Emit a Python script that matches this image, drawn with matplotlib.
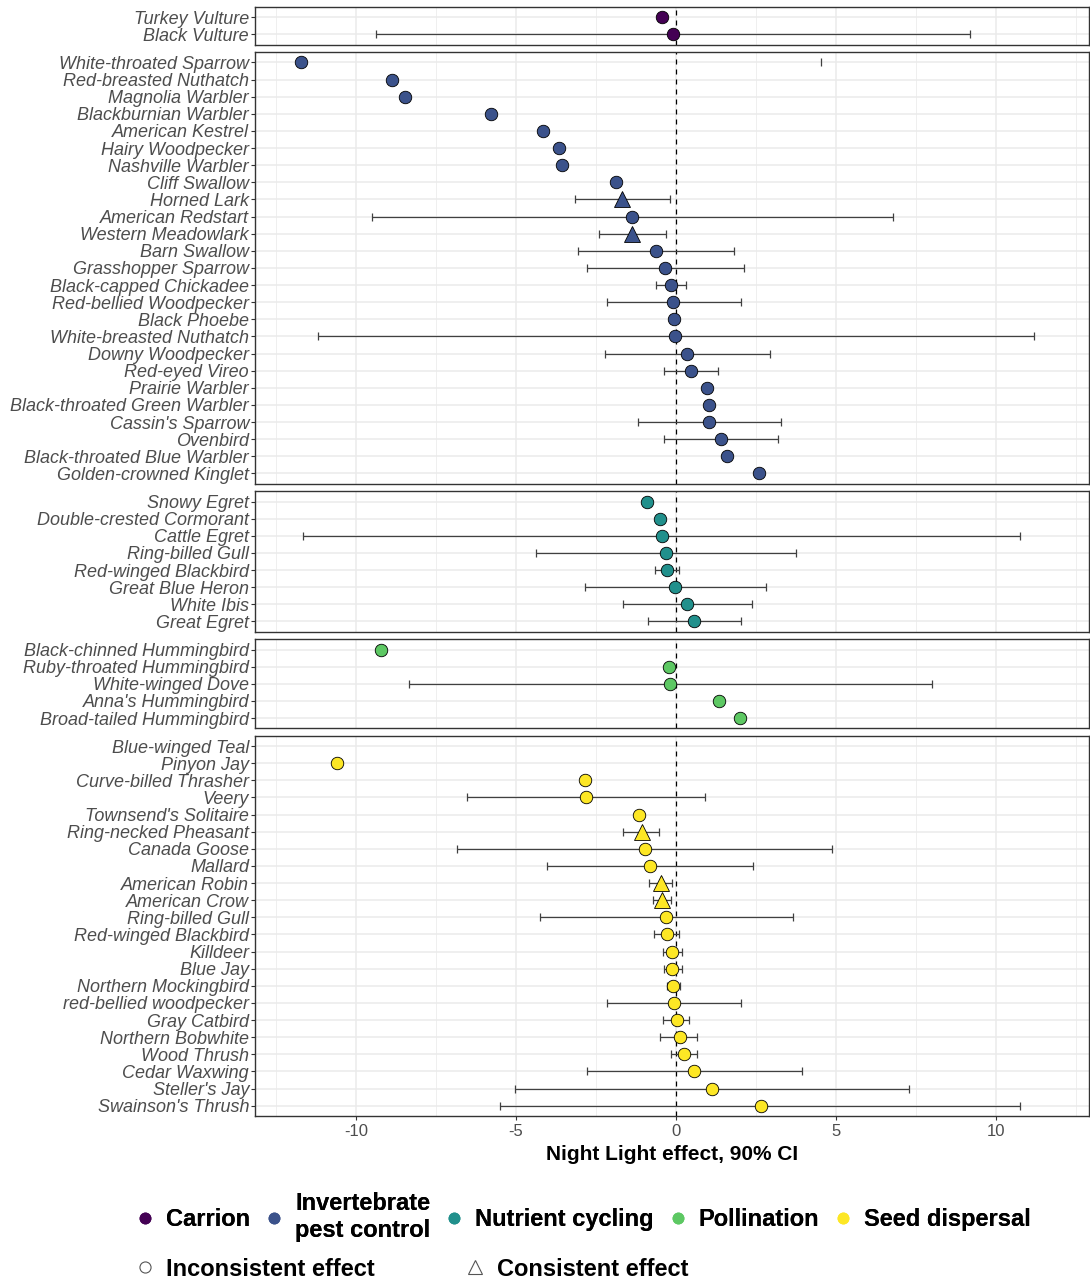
import numpy as np
import matplotlib
matplotlib.use('Agg')
import matplotlib.pyplot as plt
from matplotlib.lines import Line2D

plt.rcParams['font.family'] = ['Liberation Sans', 'DejaVu Sans']
plt.rcParams['axes.unicode_minus'] = False

nan = np.nan

groups = ['Carrion', 'Invertebrate\npest control', 'Nutrient cycling', 'Pollination', 'Seed dispersal']
colors = ['#440154', '#3B528B', '#21908C', '#5DC863', '#FDE725']

# Carrion
carrion_species = ['Turkey Vulture', 'Black Vulture']
carrion_est = [-0.45, -0.08]
carrion_lo = [nan, -9.36]
carrion_hi = [nan, 9.19]
carrion_consistent = [0, 0]

# Invertebrate pest control
pest_species = ['White-throated Sparrow', 'Red-breasted Nuthatch', 'Magnolia Warbler', 'Blackburnian Warbler',
                'American Kestrel', 'Hairy Woodpecker', 'Nashville Warbler', 'Cliff Swallow', 'Horned Lark',
                'American Redstart', 'Western Meadowlark', 'Barn Swallow', 'Grasshopper Sparrow',
                'Black-capped Chickadee', 'Red-bellied Woodpecker', 'Black Phoebe', 'White-breasted Nuthatch',
                'Downy Woodpecker', 'Red-eyed Vireo', 'Prairie Warbler', 'Black-throated Green Warbler',
                "Cassin's Sparrow", 'Ovenbird', 'Black-throated Blue Warbler', 'Golden-crowned Kinglet']
pest_est = [-11.70, -8.86, -8.45, -5.78, -4.16, -3.64, -3.55, -1.86, -1.69, -1.38, -1.38, -0.62, -0.34,
            -0.15, -0.08, -0.06, -0.02, 0.35, 0.46, 0.96, 1.02, 1.04, 1.41, 1.59, 2.58]
pest_lo = [nan, nan, nan, nan, nan, nan, nan, nan, -3.16, -9.49, -2.40, -3.05, -2.77,
           -0.62, -2.16, nan, -11.18, -2.23, -0.37, nan, nan, -1.19, -0.37, nan, nan]
pest_hi = [4.53, nan, nan, nan, nan, nan, nan, nan, -0.19, 6.77, -0.32, 1.82, 2.13,
           0.31, 2.04, nan, 11.17, 2.95, 1.30, nan, nan, 3.28, 3.19, nan, nan]
pest_consistent = [0, 0, 0, 0, 0, 0, 0, 0, 1, 0, 1, 0, 0, 0, 0, 0, 0, 0, 0, 0, 0, 0, 0, 0, 0]

# Nutrient cycling
nutr_species = ['Snowy Egret', 'Double-crested Cormorant', 'Cattle Egret', 'Ring-billed Gull',
                'Red-winged Blackbird', 'Great Blue Heron', 'White Ibis', 'Great Egret']
nutr_est = [-0.91, -0.50, -0.45, -0.32, -0.28, -0.02, 0.35, 0.57]
nutr_lo = [nan, nan, -11.64, -4.38, -0.67, -2.84, -1.67, -0.86]
nutr_hi = [nan, nan, 10.73, 3.75, 0.09, 2.82, 2.37, 2.02]
nutr_consistent = [0] * 8

# Pollination
poll_species = ['Black-chinned Hummingbird', 'Ruby-throated Hummingbird', 'White-winged Dove',
                "Anna's Hummingbird", 'Broad-tailed Hummingbird']
poll_est = [-9.21, -0.21, -0.19, 1.33, 2.00]
poll_lo = [nan, nan, -8.34, nan, nan]
poll_hi = [nan, nan, 8.00, nan, nan]
poll_consistent = [0] * 5

# Seed dispersal
seed_species = ['Blue-winged Teal', 'Pinyon Jay', 'Curve-billed Thrasher', 'Veery', "Townsend's Solitaire",
                'Ring-necked Pheasant', 'Canada Goose', 'Mallard', 'American Robin', 'American Crow',
                'Ring-billed Gull', 'Red-winged Blackbird', 'Killdeer', 'Blue Jay', 'Northern Mockingbird',
                'red-bellied woodpecker', 'Gray Catbird', 'Northern Bobwhite', 'Wood Thrush', 'Cedar Waxwing',
                "Steller's Jay", "Swainson's Thrush"]
seed_est = [nan, -10.60, -2.84, -2.82, -1.15, -1.06, -0.97, -0.82, -0.47, -0.43, -0.30, -0.28, -0.13,
            -0.11, -0.08, -0.06, 0.02, 0.11, 0.26, 0.55, 1.11, 2.65]
seed_lo = [nan, nan, nan, -6.52, nan, -1.64, -6.83, -4.03, -0.84, -0.71, -4.25, -0.69, -0.41,
           -0.37, -0.28, -2.16, -0.41, -0.50, -0.17, -2.79, -5.03, -5.50]
seed_hi = [nan, nan, nan, 0.91, nan, -0.52, 4.88, 2.39, -0.13, -0.17, 3.64, 0.09, 0.18,
           0.18, 0.11, 2.02, 0.41, 0.65, 0.67, 3.95, 7.29, 10.75]
seed_consistent = [0, 0, 0, 0, 0, 1, 0, 0, 1, 1, 0, 0, 0, 0, 0, 0, 0, 0, 0, 0, 0, 0]

panels = [
    (carrion_species, carrion_est, carrion_lo, carrion_hi, carrion_consistent),
    (pest_species, pest_est, pest_lo, pest_hi, pest_consistent),
    (nutr_species, nutr_est, nutr_lo, nutr_hi, nutr_consistent),
    (poll_species, poll_est, poll_lo, poll_hi, poll_consistent),
    (seed_species, seed_est, seed_lo, seed_hi, seed_consistent),
]

W, H = 1090, 1281
fig = plt.figure(figsize=(W / 100, H / 100), dpi=100)
heights = [len(p[0]) + 0.2 for p in panels]
gs = fig.add_gridspec(5, 1, height_ratios=heights, left=255 / W, right=1089 / W,
                      top=1 - 7 / H, bottom=1 - 1116 / H, hspace=0.035)

grid_col = '#EBEBEB'
lab_col = '#4D4D4D'
xmin, xmax = -13.15, 12.9

for i, (names, est, lo, hi, cons) in enumerate(panels):
    ax = fig.add_subplot(gs[i])
    n = len(names)
    y = np.arange(n)
    est = np.array(est, float)
    lo = np.array(lo, float)
    hi = np.array(hi, float)
    cons = np.array(cons, bool)

    ax.set_xlim(xmin, xmax)
    ax.set_ylim(n - 1 + 0.6, -0.6)

    # grid
    for gx in [-12.5, -7.5, -2.5, 2.5, 7.5, 12.5]:
        ax.axvline(gx, color=grid_col, lw=0.55, zorder=0)
    for gx in [-10, -5, 0, 5, 10]:
        ax.axvline(gx, color=grid_col, lw=1.1, zorder=0)
    for gy in y:
        ax.axhline(gy, color=grid_col, lw=1.1, zorder=0)

    ax.axvline(0, color='black', lw=0.9, ls=(0, (4, 4)), zorder=1)

    # error bars
    full = ~np.isnan(lo) & ~np.isnan(hi)
    ax.errorbar(np.where(full, est, np.nan), y, xerr=[est - lo, hi - est],
                fmt='none', ecolor='#404040', elinewidth=0.9, capsize=2.6, capthick=0.9, zorder=2)
    half = np.isnan(lo) & ~np.isnan(hi)
    ax.plot(hi[half], y[half], ls='none', marker='|', ms=5.2, mew=0.9, color='#404040', zorder=2)

    # points
    ax.plot(est[~cons], y[~cons], ls='none', marker='o', ms=9, mfc=colors[i], mec='black',
            mew=0.6, zorder=3)
    ax.plot(est[cons], y[cons], ls='none', marker='^', ms=11.5, mfc=colors[i], mec='black',
            mew=0.6, zorder=3)

    ax.set_yticks(y)
    ax.set_yticklabels(names, fontsize=13, style='italic', color=lab_col)
    ax.tick_params(axis='y', length=2.8, width=0.8, color='#333333', pad=1.5)
    for s in ax.spines.values():
        s.set_color('#333333')
        s.set_linewidth(1.0)

    ax.set_xticks([-10, -5, 0, 5, 10])
    if i == len(panels) - 1:
        ax.set_xticklabels(['-10', '-5', '0', '5', '10'], fontsize=12, color=lab_col)
        ax.tick_params(axis='x', length=2.8, width=0.8, color='#333333', pad=3)
        ax.set_xlabel('Night Light effect, 90% CI', fontsize=15, fontweight='bold', labelpad=4)
    else:
        ax.tick_params(axis='x', length=0, labelbottom=False)

# legends
fill_handles = [Line2D([], [], ls='none', marker='o', ms=7.5, mfc=c, mec=c) for c in colors]
leg1 = fig.legend(fill_handles, groups, loc='center left', bbox_to_anchor=(135.6 / W, 1 - 1217 / H),
                  ncol=5, frameon=False, prop={'size': 17, 'weight': 'bold'}, handlelength=0.8,
                  handletextpad=0.5, columnspacing=0.6, borderpad=0, borderaxespad=0)
shape_handles = [Line2D([], [], ls='none', marker='o', ms=8, mfc='white', mec='#555555', mew=0.8),
                 Line2D([], [], ls='none', marker='^', ms=10, mfc='white', mec='#555555', mew=0.8)]
fig.legend(shape_handles, ['Inconsistent effect', 'Consistent effect'], loc='center left',
           bbox_to_anchor=(135.6 / W, 1 - 1269 / H), ncol=2, frameon=False,
           prop={'size': 17, 'weight': 'bold'}, handlelength=0.8, handletextpad=0.5,
           columnspacing=3.85, borderpad=0, borderaxespad=0)
fig.add_artist(leg1)

fig.savefig('out.png', dpi=100)
